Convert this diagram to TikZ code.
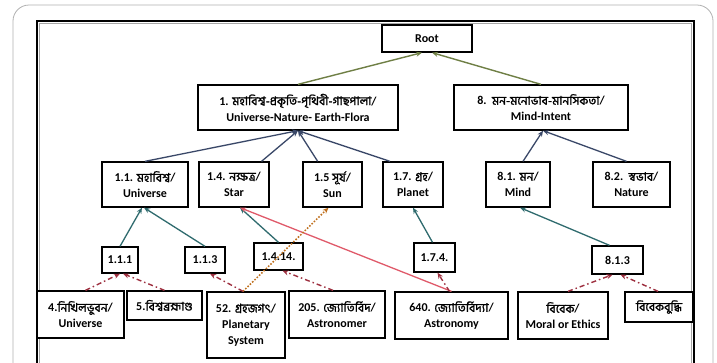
\documentclass[tikz,border=0pt]{standalone}
\usepackage{fontspec}
\setmainfont{Carlito}
\newfontfamily\bn[Script=Bengali, AutoFakeBold=1.6]{Hind Siliguri}
\usetikzlibrary{arrows.meta}
\definecolor{olivearr}{HTML}{6F7F45}
\definecolor{slatearr}{HTML}{3A4868}
\definecolor{tealarr}{HTML}{2F6B6E}
\definecolor{dotred}{HTML}{9E3040}
\definecolor{pinkred}{HTML}{E05A6A}
\definecolor{orangedot}{HTML}{C0701E}
\begin{document}
\begin{tikzpicture}[x=1pt,y=-1pt,
  box/.style={draw=black, line width=1.3pt, fill=white, inner sep=0pt, align=center,
    font=\fontsize{12}{16}\selectfont\bfseries, text=black},
  sz/.style 2 args={minimum width=#1, minimum height=#2},
  tip/.style={-{Stealth[length=6,width=5]}},
  toparr/.style={tip, draw=olivearr, line width=1.4pt},
  midarr/.style={tip, draw=slatearr, line width=1.3pt},
  lowarr/.style={tip, draw=tealarr, line width=1.3pt},
  dasharr/.style={tip, draw=dotred, line width=1.4pt, dash pattern=on 5pt off 3pt on 1.5pt off 3pt},
  redarr/.style={tip, draw=pinkred, line width=1.3pt},
  orangearr/.style={tip, draw=orangedot, line width=1.5pt, dash pattern=on 1.6pt off 1.6pt}]
\useasboundingbox (0,0) rectangle (717,362);
\clip (0,0) rectangle (717,362);
\fill[white] (0,0) rectangle (717,362);
\draw[gray!60, line width=0.8pt, rounded corners=16pt] (13,5) rectangle (713,430);
\draw[black, line width=1.8pt] (37,21) rectangle (694,430);
\draw[gray!70, line width=0.7pt] (39.3,23.3) rectangle (691.7,430);

% level 0
\node[box, sz={90}{27}] (root) at (427,38.5) {Root};
% level 1
\node[box, sz={200}{45}] (n1) at (298,107.5) {1. {\bn মহাবিশ্ব-প্রকৃতি-পৃথিবী-গাছপালা}/\\Universe-Nature- Earth-Flora};
\node[box, sz={174}{45}] (n8) at (541,107.5) {8.\ \ {\bn মন-মনোভাব-মানসিকতা}/\\Mind-Intent};
% level 2
\node[box, sz={86}{45}] (n11) at (145,184.5) {1.1. {\bn মহাবিশ্ব}/\\Universe};
\node[box, sz={70}{45}] (n14) at (234,184.5) {1.4. {\bn নক্ষত্র}/\\Star};
\node[box, sz={59}{45}] (n15) at (332.5,184.5) {1.5 {\bn সূর্য}/\\Sun};
\node[box, sz={60}{45}] (n17) at (413,184.5) {1.7. {\bn গ্রহ}/\\Planet};
\node[box, sz={64}{45}] (n81) at (518,184.5) {8.1. {\bn মন}/\\Mind};
\node[box, sz={77}{45}] (n82) at (631.5,184.5) {8.2.\ \ {\bn স্বভাব}/\\Nature};
% level 3
\node[box, sz={36}{26}] (n111) at (120,260) {1.1.1};
\node[box, sz={40}{26}] (n113) at (205,260) {1.1.3};
\node[box, sz={49}{27}] (n1414) at (278.5,256.5) {1.4.14.};
\node[box, sz={41}{29}] (n174) at (434.5,257.5) {1.7.4.};
\node[box, sz={51}{28}] (n813) at (617.5,260) {8.1.3};
% level 4
\node[box, sz={87}{47}] (n4) at (80.5,314.5) {4.{\bn নিখিলভুবন}/\\Universe};
\node[box, sz={75}{29}] (n5) at (164.5,305.5) {5.{\bn বিশ্বব্রহ্মাণ্ড}};
\node[box, sz={78}{66}] (n52) at (246,325) {52. {\bn গ্রহজগৎ}/\\Planetary\\System};
\node[box, sz={96}{47}] (n205) at (337,314.5) {205. {\bn জ্যোতির্বিদ}/\\Astronomer};
\node[box, sz={113}{47}] (n640) at (451.5,315.5) {640. {\bn জ্যোতির্বিদ্যা}/\\Astronomy};
\node[box, sz={90}{47}] (nbk) at (563,315.5) {{\bn বিবেক}/\\Moral or Ethics};
\node[box, sz={68}{30}] (nbb) at (659,307) {{\bn বিবেকবুদ্ধি}};

% connectors level 1 -> root
\draw[toparr] (n1.north) -- ([xshift=-5]root.south);
\draw[toparr] (n8.north) -- ([xshift=5]root.south);
% level 2 -> level 1
\draw[midarr] (n11.north) -- (n1.south);
\draw[midarr] (n14) -- (n1.south);
\draw[midarr] (n15) -- (n1.south);
\draw[midarr] ([xshift=-23]n17.north) -- (n1.south);
\draw[midarr] ([xshift=5]n81.north) -- ([xshift=2]n8.south);
\draw[midarr] ([xshift=-5]n82.north) -- ([xshift=2]n8.south);
% level 3 -> level 2
\draw[lowarr] (n111.north) -- ([xshift=-3]n11.south);
\draw[lowarr] (n113.north) -- ([xshift=-1]n11.south);
\draw[lowarr] (n1414.north) -- ([xshift=6]n14.south);
\draw[lowarr] ([xshift=-2]n174.north) -- (n17.south);
\draw[lowarr] ([xshift=-8]n813.north) -- ([xshift=2]n81.south);
% cross links
\draw[redarr] (n640.north) -- ([xshift=6]n14.south);
\draw[orangearr] ([xshift=-3]n52.north) -- ([xshift=-4]n15.south);
% level 4 -> level 3
\draw[dasharr] ([xshift=5]n4.north) -- (n111.south);
\draw[dasharr] (n5.north) -- ([xshift=3]n111.south);
\draw[dasharr] ([xshift=-3]n52.north) -- ([xshift=5]n113.south);
\draw[dasharr] ([xshift=-4]n205.north) -- ([xshift=4]n1414.south);
\draw[dasharr] ([xshift=-2]n640.north) -- ([xshift=3]n174.south);
\draw[dasharr] ([xshift=5]nbk.north) -- ([xshift=-5]n813.south);
\draw[dasharr] ([xshift=-1]nbb.north) -- ([xshift=3]n813.south);
\end{tikzpicture}
\end{document}
